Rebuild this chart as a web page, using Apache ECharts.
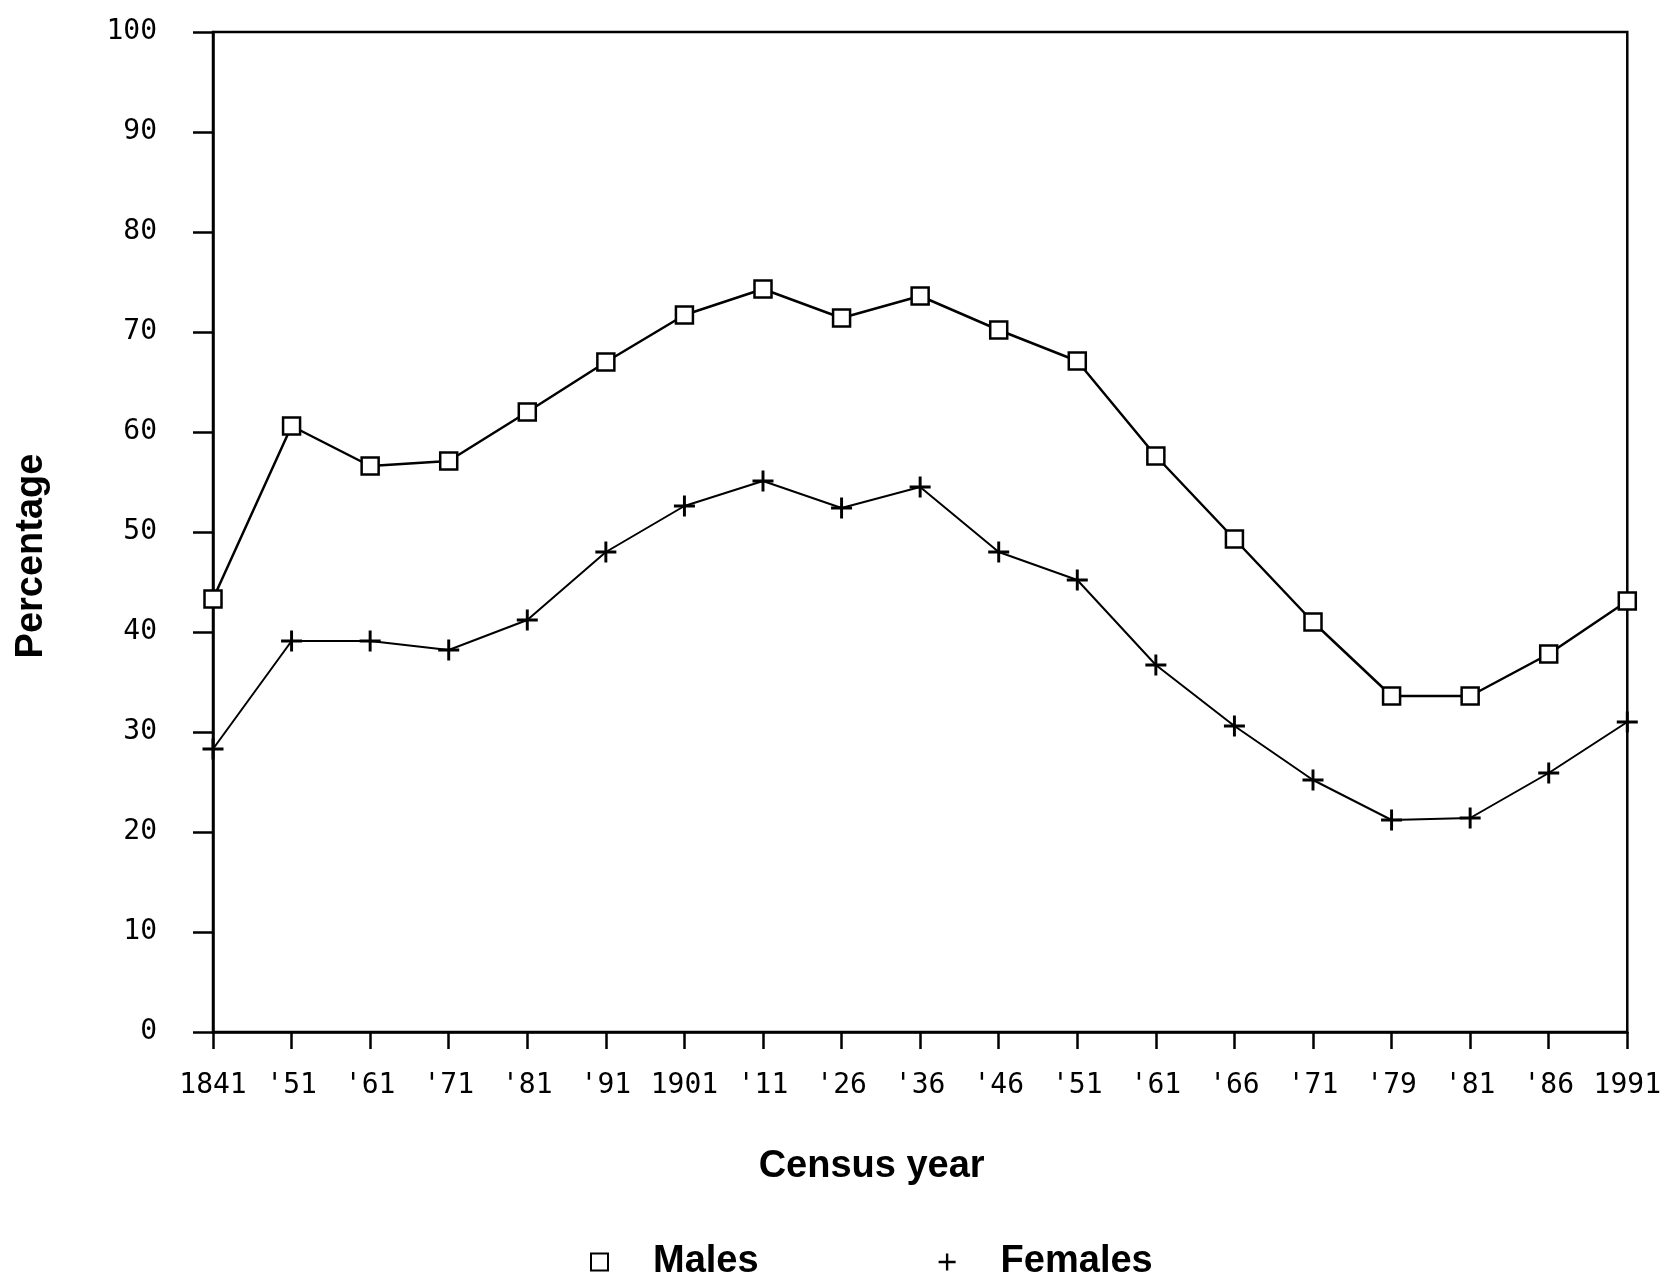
<!DOCTYPE html>
<html>
<head>
<meta charset="utf-8">
<script src="https://cdn.jsdelivr.net/npm/echarts@6/dist/echarts.min.js"></script>
<style>
  html, body { margin: 0; padding: 0; background: #fff; }
  #chart { width: 1664px; height: 1273px; }
</style>
</head>
<body>
<div id="chart"></div>
<script>
// census years (x axis tick labels)
const years = ['1841', "'51", "'61", "'71", "'81", "'91", '1901', "'11", "'26", "'36",
  "'46", "'51", "'61", "'66", "'71", "'79", "'81", "'86", '1991'];
// percentages
const males = [43.3, 60.6, 56.6, 57.1, 62.0, 67.0, 71.7, 74.3, 71.4, 73.6,
  70.2, 67.1, 57.6, 49.3, 41.0, 33.6, 33.6, 37.8, 43.1];
const females = [28.3, 39.1, 39.1, 38.2, 41.2, 48.0, 52.6, 55.1, 52.4, 54.5,
  48.0, 45.2, 36.7, 30.6, 25.2, 21.2, 21.4, 25.9, 31.0];

const plusIcon = 'path://M8.6,0h2.8v8.6h8.6v2.8h-8.6v8.6h-2.8v-8.6h-8.6v-2.8h8.6z';
const tickFont = '"DejaVu Sans Mono", "Liberation Mono", monospace';
const nameFont = '"Liberation Sans", Arial, sans-serif';

const chart = echarts.init(document.getElementById('chart'));

const option = {
  animation: false,
  backgroundColor: '#fff',
  grid: {
    left: 213,
    right: 34,
    top: 32,
    bottom: 241,
    show: true,
    borderColor: '#000',
    borderWidth: 2.5,
    backgroundColor: 'transparent'
  },
  legend: {
    left: 585,
    top: 1238,
    itemWidth: 17,
    itemHeight: 17,
    itemGap: 180,
    data: [
      { name: 'Males', icon: 'rect' },
      { name: 'Females', icon: plusIcon }
    ],
    textStyle: {
      fontFamily: nameFont,
      fontWeight: 'bold',
      fontSize: 38,
      color: '#000',
      padding: [0, 0, 0, 40]
    }
  },
  xAxis: {
    type: 'category',
    data: years,
    boundaryGap: false,
    name: 'Census year',
    nameLocation: 'middle',
    nameGap: 116,
    nameTextStyle: {
      fontFamily: nameFont,
      fontWeight: 'bold',
      fontSize: 38,
      color: '#000',
      padding: [0, 97, 0, 0]
    },
    axisLine: { lineStyle: { color: '#000', width: 2.5 } },
    axisTick: {
      alignWithLabel: true,
      interval: 0,
      length: 17,
      lineStyle: { color: '#000', width: 2.5 }
    },
    axisLabel: {
      interval: 0,
      margin: 40,
      fontFamily: tickFont,
      fontSize: 28,
      color: '#000'
    },
    splitLine: { show: false }
  },
  yAxis: {
    type: 'value',
    min: 0,
    max: 100,
    interval: 10,
    name: 'Percentage',
    nameLocation: 'middle',
    nameRotate: 90,
    nameGap: 162,
    nameTextStyle: {
      fontFamily: nameFont,
      fontWeight: 'bold',
      fontSize: 38,
      color: '#000',
      padding: [0, 48, 0, 0]
    },
    axisLine: { show: true, lineStyle: { color: '#000', width: 2.5 } },
    axisTick: { show: true, length: 20, lineStyle: { color: '#000', width: 2.5 } },
    axisLabel: {
      margin: 56,
      fontFamily: tickFont,
      fontSize: 28,
      color: '#000'
    },
    splitLine: { show: false }
  },
  series: [
    {
      name: 'Males',
      type: 'line',
      data: males,
      symbol: 'rect',
      symbolSize: 17,
      lineStyle: { color: '#000', width: 2.5 },
      itemStyle: { color: '#fff', borderColor: '#000', borderWidth: 2.5 },
      z: 3
    },
    {
      name: 'Females',
      type: 'line',
      data: females,
      symbol: plusIcon,
      symbolSize: 21,
      lineStyle: { color: '#000', width: 2 },
      itemStyle: { color: '#000' },
      z: 3
    }
  ]
};

chart.setOption(option);
</script>
</body>
</html>
